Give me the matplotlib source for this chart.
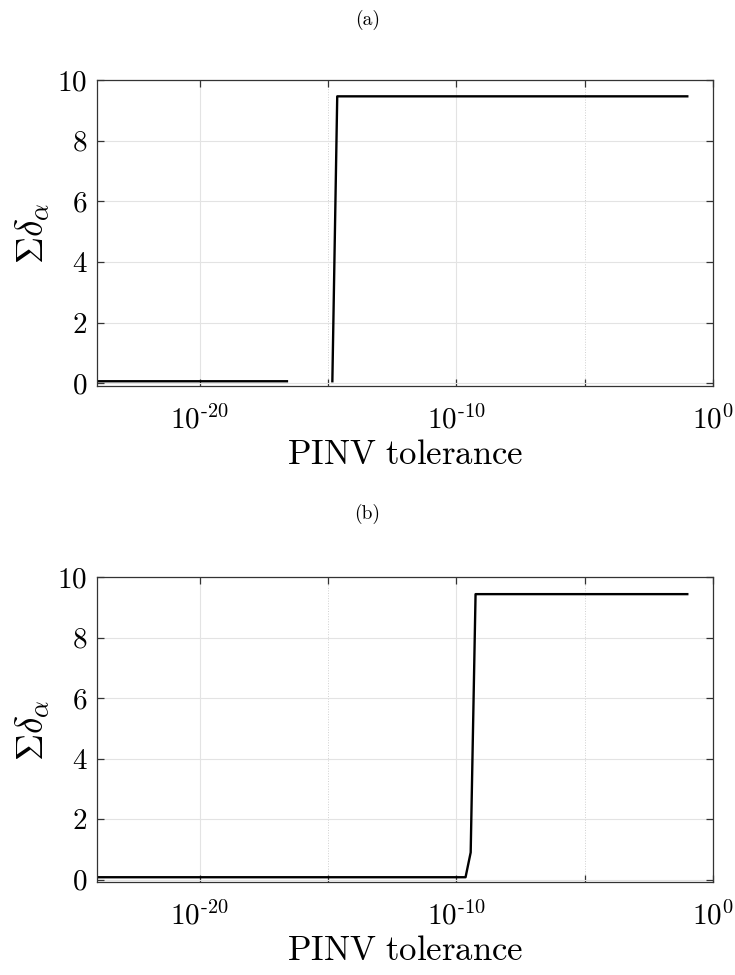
import numpy as np
import matplotlib
matplotlib.use("Agg")
import matplotlib.pyplot as plt
from matplotlib.ticker import FixedLocator, FixedFormatter, NullFormatter

plt.rcParams['mathtext.fontset'] = 'cm'
plt.rcParams['font.family'] = ['serif']
plt.rcParams['font.serif'] = ['cmr10', 'DejaVu Serif']
plt.rcParams['axes.formatter.use_mathtext'] = True

# ------------------ data (log10 of tolerance, sum of delta) ------------------
a_exp = [-24.0, -16.6, np.nan, -14.83, -14.64, -1.0]
a_val = [0.07, 0.07, np.nan, 0.07, 9.46, 9.46]

b_exp = [-24.0, -9.64, -9.44, -9.25, -1.0]
b_val = [0.08, 0.08, 0.90, 9.44, 9.44]

major_exp = [-20, -10, 0]
minor_exp = [-15, -5]
major_labels = [r'$10^{\text{-}20}$', r'$10^{\text{-}10}$', r'$10^{0}$']
y_ticks = [0, 2, 4, 6, 8, 10]

fig = plt.figure(figsize=(7.35, 9.75), dpi=100)

panels = [
    ("(a)", a_exp, a_val, [0.132, 0.604, 0.838, 0.314], 0.980),
    ("(b)", b_exp, b_val, [0.132, 0.095, 0.838, 0.313], 0.473),
]

for tag, xe, yv, rect, ty in panels:
    ax = fig.add_axes(rect)
    x = np.power(10.0, np.array(xe, dtype=float))
    ax.plot(x, yv, color='black', lw=1.7)
    ax.set_xscale('log')
    ax.set_xlim(1e-24, 1e0)
    ax.set_ylim(-0.09, 10)

    ax.xaxis.set_major_locator(FixedLocator([10.0 ** e for e in major_exp]))
    ax.xaxis.set_major_formatter(FixedFormatter(major_labels))
    ax.xaxis.set_minor_locator(FixedLocator([10.0 ** e for e in minor_exp]))
    ax.xaxis.set_minor_formatter(NullFormatter())
    ax.set_yticks(y_ticks)
    ax.set_yticklabels([rf'${v}$' for v in y_ticks])

    ax.grid(True, which='major', color='#e3e3e3', lw=0.8)
    ax.grid(True, which='minor', axis='x', color='#d0d0d0', lw=0.7, ls=':')
    ax.set_axisbelow(True)

    ax.tick_params(which='both', direction='in', top=True, right=True,
                   length=5, width=0.9, color='#333333', labelsize=21)
    ax.tick_params(axis='x', pad=14)
    ax.tick_params(axis='y', pad=7)
    for s in ax.spines.values():
        s.set_color('#333333')
        s.set_linewidth(0.9)

    ax.set_xlabel(r'$\mathrm{PINV\ tolerance}$', fontsize=25, labelpad=3)
    ax.set_ylabel(r'$\Sigma\delta_\alpha$', fontsize=27, labelpad=4)

    fig.text(0.5, ty, tag, ha='center', va='center', fontsize=14)

fig.savefig('out.png', dpi=100)
